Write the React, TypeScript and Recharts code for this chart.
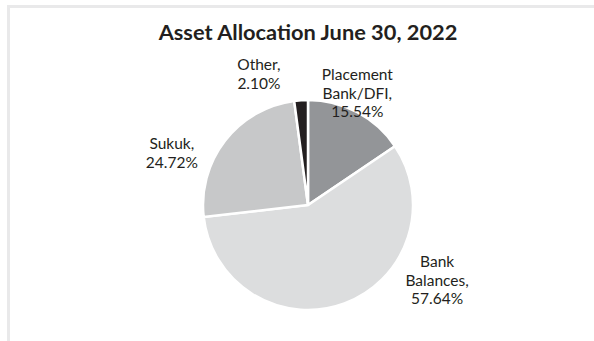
import React from "react";
import { PieChart, Pie, Cell } from "recharts";

const categories = ["Placement Bank/DFI", "Bank Balances", "Sukuk", "Other"];
const values = [15.54, 57.64, 24.72, 2.1];
const labelLines = [
  ["Placement", "Bank/DFI,", "15.54%"],
  ["Bank", "Balances,", "57.64%"],
  ["Sukuk,", "24.72%"],
  ["Other,", "2.10%"],
];

const colors = ["#939598", "#dcddde", "#c7c8c9", "#231f20"];
// label placement in polar terms relative to pie centre (angle in degrees, radius as factor of outerRadius)
const labelPolar = [
  { angle: 66.3, r: 1.17 },
  { angle: -30, r: 1.42 },
  { angle: 158.9, r: 1.39 },
  { angle: 110.5, r: 1.335 },
];

const data = categories.map((name, i) => ({ name, value: values[i] }));

const FONT = "Lato, 'Open Sans', sans-serif";
const RAD = Math.PI / 180;

const renderLabel = (props: any) => {
  const { cx, cy, outerRadius, index } = props;
  const p = labelPolar[index];
  const x = cx + Math.cos(p.angle * RAD) * outerRadius * p.r;
  const y = cy - Math.sin(p.angle * RAD) * outerRadius * p.r;
  const lines = labelLines[index];
  const lh = 18.5;
  const start = y - ((lines.length - 1) * lh) / 2;
  return (
    <text
      x={x}
      y={start}
      textAnchor="middle"
      dominantBaseline="central"
      fill="#231f20"
      style={{ fontFamily: FONT, fontSize: 15.5 }}
    >
      {lines.map((l, k) => (
        <tspan key={k} x={x} y={start + k * lh}>
          {l}
        </tspan>
      ))}
    </text>
  );
};

export default function App() {
  return (
    <div
      style={{
        position: "absolute",
        left: 0,
        top: 0,
        width: 594,
        height: 341,
        background: "#ffffff",
        overflow: "hidden",
      }}
    >
      <div
        style={{
          position: "absolute",
          left: 7,
          top: 5,
          width: 620,
          height: 400,
          borderTop: "3px solid #e9e9ea",
          borderLeft: "3px solid #e9e9ea",
          boxSizing: "border-box",
        }}
      />
      <div
        style={{
          position: "absolute",
          left: 0,
          top: 18,
          width: 616,
          textAlign: "center",
          fontFamily: FONT,
          fontWeight: 700,
          fontSize: 21.8,
          color: "#231f20",
          lineHeight: "28px",
        }}
      >
        Asset Allocation June 30, 2022
      </div>
      <div style={{ position: "absolute", left: 0, top: 0 }}>
        <PieChart width={594} height={341} margin={{ top: 0, right: 0, bottom: 0, left: 0 }}>
          <Pie
            data={data}
            dataKey="value"
            nameKey="name"
            cx={308}
            cy={205}
            outerRadius={105}
            startAngle={90}
            endAngle={-270}
            stroke="#ffffff"
            strokeWidth={2.5}
            label={renderLabel}
            labelLine={false}
            isAnimationActive={false}
          >
            {data.map((d, i) => (
              <Cell key={d.name} fill={colors[i]} />
            ))}
          </Pie>
        </PieChart>
      </div>
    </div>
  );
}
